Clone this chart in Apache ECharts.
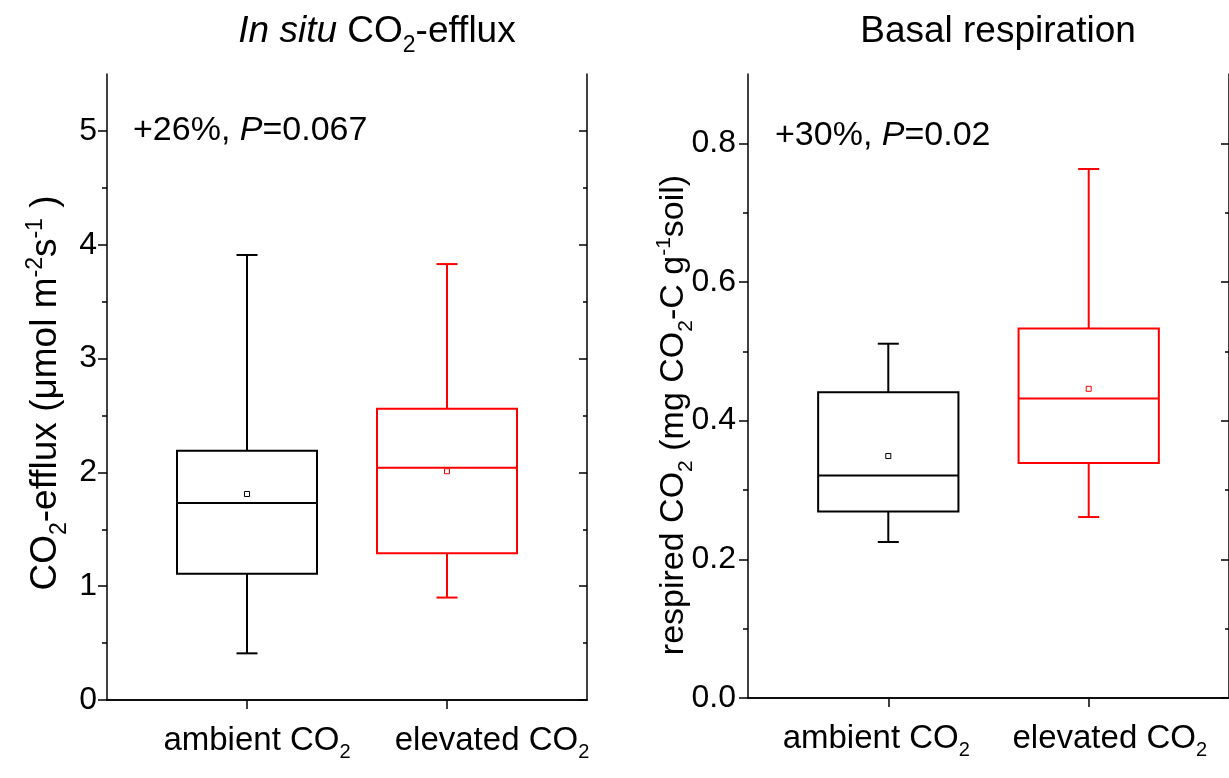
<!DOCTYPE html>
<html><head><meta charset="utf-8">
<script src="https://cdn.jsdelivr.net/npm/echarts@6/dist/echarts.min.js"></script>
<style>html,body{margin:0;padding:0;background:#fff}#c{width:1229px;height:778px}</style>
</head><body><div id="c"></div>
<script>
// ---------------- data ----------------
const categories = ['ambient', 'elevated'];
const categoryPositions = [1, 2];
// [lower whisker, Q1, median, Q3, upper whisker]
const effluxAmbient = [0.41, 1.11, 1.73, 2.19, 3.91];
const effluxElevated = [0.90, 1.29, 2.04, 2.56, 3.83];
const effluxMeans = [1.81, 2.01];
const respAmbient = [0.225, 0.269, 0.321, 0.441, 0.511];
const respElevated = [0.261, 0.339, 0.432, 0.533, 0.763];
const respMeans = [0.349, 0.446];
const effluxMajorTicks = [0, 1, 2, 3, 4, 5];
const effluxMinorTicks = [0.5, 1.5, 2.5, 3.5, 4.5];
const respMajorTicks = [0, 0.2, 0.4, 0.6, 0.8];
const respMinorTicks = [0.1, 0.3, 0.5, 0.7];
const effluxRange = [0, 5.5];
const respRange = [0, 0.9];
const xRange = [0.3, 2.7];
const effluxNote = ['+26%, ', 'P', '=0.067'];
const respNote = ['+30%, ', 'P', '=0.02'];

// ---------------- styling / layout ----------------
const FONT = '"Liberation Sans", Arial, Helvetica, sans-serif';
const colors = ['#000000', '#ff0000'];
// horizontal offsets (axis units) of the category label texts, as in the original layout
const labelShiftLeft = [0.05, 0.225];
const labelShiftRight = [-0.06, 0.105];

function richSet(F) {
  const s = Math.round(F * 0.62);
  const base = {fontFamily: FONT, color: '#000', fill: '#000'};
  return {
    n: Object.assign({}, base, {fontSize: F, lineHeight: F, verticalAlign: 'top', padding: [6, 0, 0, 0]}),
    i: Object.assign({}, base, {fontSize: F, lineHeight: F, verticalAlign: 'top', padding: [6, 0, 0, 0], fontStyle: 'italic'}),
    sub: Object.assign({}, base, {fontSize: s, lineHeight: s, verticalAlign: 'top', padding: [Math.round(6 + 0.56 * F), 0, 0, 0]}),
    sup: Object.assign({}, base, {fontSize: s, lineHeight: s, verticalAlign: 'top', padding: [Math.round(5 - 0.05 * F), 0, 0, 0]})
  };
}

function boxData(a, e, means) {
  return [
    [categoryPositions[0]].concat(a, [means[0]]),
    [categoryPositions[1]].concat(e, [means[1]])
  ];
}

function renderBox(params, api) {
  const x = api.value(0);
  const c = colors[params.dataIndex];
  const pMin = api.coord([x, api.value(1)]);
  const pQ1 = api.coord([x, api.value(2)]);
  const pMed = api.coord([x, api.value(3)]);
  const pQ3 = api.coord([x, api.value(4)]);
  const pMax = api.coord([x, api.value(5)]);
  const pMean = api.coord([x, api.value(6)]);
  const half = api.size([0.7, 0])[0] / 2;
  const cap = api.size([0.105, 0])[0] / 2;
  const ls = {stroke: c, lineWidth: 2, fill: null};
  const cx = pMed[0];
  return {
    type: 'group',
    children: [
      {type: 'rect', shape: {x: cx - half, y: pQ3[1], width: 2 * half, height: pQ1[1] - pQ3[1]}, style: Object.assign({}, ls, {fill: 'none'})},
      {type: 'line', shape: {x1: cx - half, y1: pMed[1], x2: cx + half, y2: pMed[1]}, style: ls},
      {type: 'line', shape: {x1: cx, y1: pQ3[1], x2: cx, y2: pMax[1]}, style: ls},
      {type: 'line', shape: {x1: cx, y1: pQ1[1], x2: cx, y2: pMin[1]}, style: ls},
      {type: 'line', shape: {x1: cx - cap, y1: pMax[1], x2: cx + cap, y2: pMax[1]}, style: ls},
      {type: 'line', shape: {x1: cx - cap, y1: pMin[1], x2: cx + cap, y2: pMin[1]}, style: ls},
      {type: 'rect', shape: {x: pMean[0] - 2.5, y: pMean[1] - 2.5, width: 5, height: 5}, style: {stroke: c, lineWidth: 1, fill: '#fff'}}
    ]
  };
}

const axisLine = {show: true, lineStyle: {color: '#000', width: 1.5}};

function xAxes(gridIndex, shifts) {
  const labelValues = categoryPositions.map(function (p, k) { return p + shifts[k]; });
  return [
    {
      type: 'value', gridIndex: gridIndex, position: 'bottom', min: xRange[0], max: xRange[1],
      axisLine: axisLine, splitLine: {show: false},
      axisTick: {show: true, customValues: categoryPositions, length: 9, lineStyle: {color: '#000', width: 1.5}},
      axisLabel: {
        show: true, customValues: labelValues, margin: 18,
        showMinLabel: true, showMaxLabel: true, hideOverlap: false,
        formatter: function (v) {
          let k = 0, best = Infinity;
          labelValues.forEach(function (lv, j) { if (Math.abs(lv - v) < best) { best = Math.abs(lv - v); k = j; } });
          return '{n|' + categories[k] + ' CO}{sub|2}';
        },
        rich: richSet(33)
      }
    },
    {
      type: 'value', gridIndex: gridIndex, position: 'top', min: xRange[0], max: xRange[1],
      axisLine: axisLine, splitLine: {show: false},
      axisTick: {show: true, inside: true, customValues: categoryPositions, length: 8, lineStyle: {color: '#000', width: 1.5}},
      axisLabel: {show: false}
    }
  ];
}

function yAxes(gridIndex, range, majors, minors, fmt, margin) {
  const common = {type: 'value', gridIndex: gridIndex, min: range[0], max: range[1], splitLine: {show: false}};
  return [
    Object.assign({}, common, {
      position: 'left', axisLine: axisLine,
      axisTick: {show: true, customValues: majors, length: 9, lineStyle: {color: '#000', width: 1.5}},
      axisLabel: {show: true, customValues: majors, formatter: fmt, margin: margin, fontSize: 32, fontFamily: FONT, color: '#000',
                  showMinLabel: true, showMaxLabel: true}
    }),
    Object.assign({}, common, {
      position: 'left', axisLine: {show: false},
      axisTick: {show: true, customValues: minors, length: 5, lineStyle: {color: '#000', width: 1.5}},
      axisLabel: {show: false}
    }),
    Object.assign({}, common, {
      position: 'right', axisLine: axisLine,
      axisTick: {show: true, inside: true, customValues: majors, length: 8, lineStyle: {color: '#000', width: 1.5}},
      axisLabel: {show: false}
    }),
    Object.assign({}, common, {
      position: 'right', axisLine: {show: false},
      axisTick: {show: true, inside: true, customValues: minors, length: 4, lineStyle: {color: '#000', width: 1.5}},
      axisLabel: {show: false}
    })
  ];
}

function textEl(x, y, text, F, align, rotation) {
  return {
    type: 'text', x: x, y: y, silent: true, rotation: rotation || 0,
    style: {text: text, rich: richSet(F), align: align || 'center', verticalAlign: 'middle', fill: '#000', fontFamily: FONT, fontSize: F}
  };
}

const chart = echarts.init(document.getElementById('c'), null, {renderer: 'canvas'});
chart.setOption({
  animation: false,
  backgroundColor: '#fff',
  grid: [
    {left: 107, top: 74, width: 480, height: 626},
    {left: 748, top: 74, width: 481, height: 624}
  ],
  xAxis: xAxes(0, labelShiftLeft).concat(xAxes(1, labelShiftRight)),
  yAxis: yAxes(0, effluxRange, effluxMajorTicks, effluxMinorTicks, function (v) { return String(Math.round(v)); }, 10)
    .concat(yAxes(1, respRange, respMajorTicks, respMinorTicks, function (v) { return v.toFixed(1); }, 12)),
  series: [
    {type: 'custom', xAxisIndex: 0, yAxisIndex: 0, renderItem: renderBox, encode: {x: 0, y: [1, 2, 3, 4, 5]},
     data: boxData(effluxAmbient, effluxElevated, effluxMeans), silent: true, clip: false},
    {type: 'custom', xAxisIndex: 2, yAxisIndex: 4, renderItem: renderBox, encode: {x: 0, y: [1, 2, 3, 4, 5]},
     data: boxData(respAmbient, respElevated, respMeans), silent: true, clip: false}
  ],
  graphic: [
    textEl(377, 26, '{i|In situ} {n|CO}{sub|2}{n|-efflux}', 37),
    textEl(998, 26, '{n|Basal respiration}', 37),
    textEl(133, 125, '{n|' + effluxNote[0] + '}{i|' + effluxNote[1] + '}{n|' + effluxNote[2] + '}', 34, 'left'),
    textEl(775, 130, '{n|' + respNote[0] + '}{i|' + respNote[1] + '}{n|' + respNote[2] + '}', 34, 'left'),
    textEl(40, 393, '{n|CO}{sub|2}{n|-efflux (μmol m}{sup|-2}{n|s}{sup|-1}{n| )}', 37, 'center', Math.PI / 2),
    textEl(668, 415, '{n|respired CO}{sub|2}{n| (mg CO}{sub|2}{n|-C g}{sup|-1}{n|soil)}', 34, 'center', Math.PI / 2)
  ]
});
</script></body></html>
